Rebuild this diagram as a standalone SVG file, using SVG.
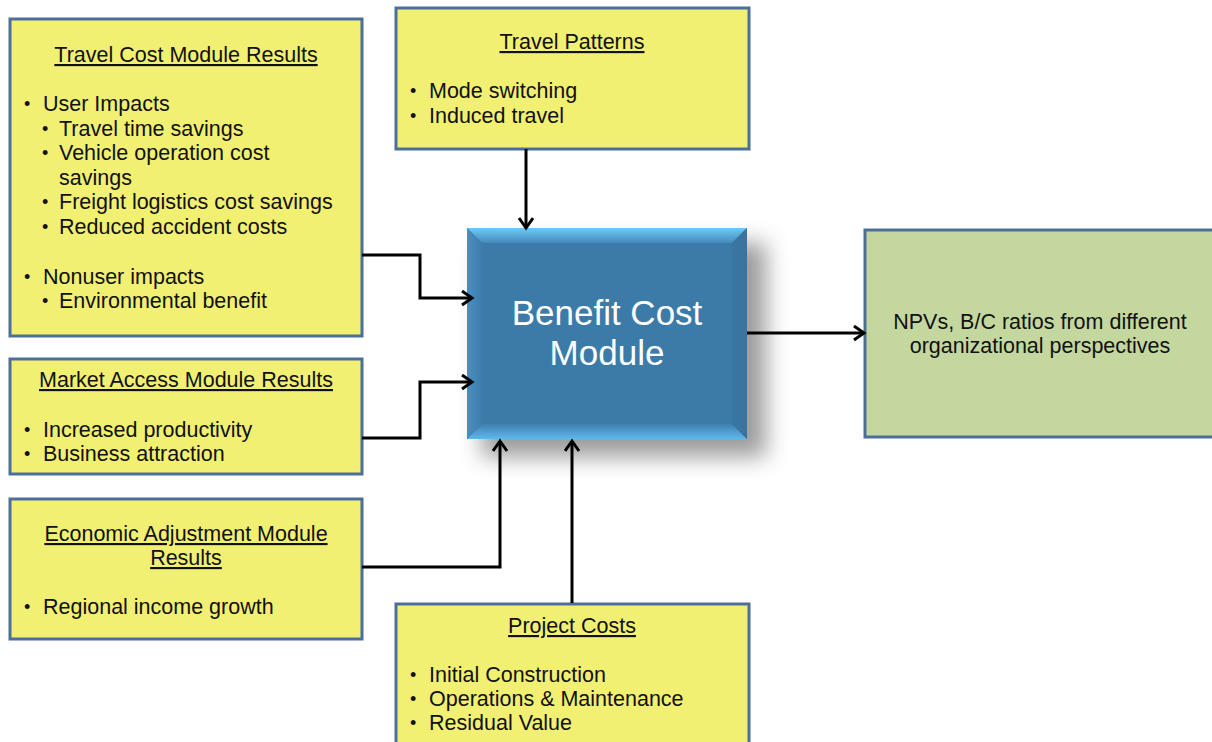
<svg xmlns="http://www.w3.org/2000/svg" width="1212" height="742" viewBox="0 0 1212 742">
  <style>
    .box { fill: #F2F072; stroke: #4C6E9C; stroke-width: 3; }
    .out { fill: #C4D79F; stroke: #4C6E9C; stroke-width: 3; }
    text { font-family: "Liberation Sans", Arial, sans-serif; font-size: 21.5px; fill: #111; }
    .ttl { text-anchor: middle; text-decoration: underline; }
    .mid { text-anchor: middle; }
    .dot { font-size: 18px; }
    .big { font-size: 35px; fill: #ffffff; text-anchor: middle; }
    .wire { fill: none; stroke: #000; stroke-width: 3; }
  </style>
  <defs>
    <marker id="arr" markerUnits="userSpaceOnUse" markerWidth="16" markerHeight="18" refX="12" refY="8" orient="auto">
      <path d="M2,1 L12,8 L2,15" fill="none" stroke="#000" stroke-width="3"/>
    </marker>
    <filter id="shade" x="-30%" y="-30%" width="170%" height="170%">
      <feGaussianBlur stdDeviation="11"/>
    </filter>
    <linearGradient id="bTop" x1="0" y1="0" x2="0" y2="1">
      <stop offset="0" stop-color="#6CCBF6"/>
      <stop offset="1" stop-color="#4589BC"/>
    </linearGradient>
    <linearGradient id="bBot" x1="0" y1="0" x2="0" y2="1">
      <stop offset="0" stop-color="#3F80B0"/>
      <stop offset="1" stop-color="#5DB9EC"/>
    </linearGradient>
    <linearGradient id="bLeft" x1="0" y1="0" x2="1" y2="0">
      <stop offset="0" stop-color="#4790C4"/>
      <stop offset="1" stop-color="#3E7DAB"/>
    </linearGradient>
    <linearGradient id="bRight" x1="0" y1="0" x2="1" y2="0">
      <stop offset="0" stop-color="#3A76A2"/>
      <stop offset="1" stop-color="#3A73A0"/>
    </linearGradient>
  </defs>

  <!-- input boxes -->
  <g id="travel-cost">
    <rect class="box" x="10" y="19" width="352" height="317"/>
    <text class="ttl" x="186" y="62">Travel Cost Module Results</text>
    <text class="dot" x="24" y="110">•</text><text x="43" y="111">User Impacts</text>
    <text class="dot" x="42" y="135">•</text><text x="59" y="136">Travel time savings</text>
    <text class="dot" x="42" y="159">•</text><text x="59" y="160">Vehicle operation cost</text>
    <text x="59" y="185">savings</text>
    <text class="dot" x="42" y="208">•</text><text x="59" y="209">Freight logistics cost savings</text>
    <text class="dot" x="42" y="233">•</text><text x="59" y="234">Reduced accident costs</text>
    <text class="dot" x="24" y="283">•</text><text x="43" y="284">Nonuser impacts</text>
    <text class="dot" x="42" y="307">•</text><text x="59" y="308">Environmental benefit</text>
  </g>

  <g id="travel-patterns">
    <rect class="box" x="396" y="8" width="353" height="141"/>
    <text class="ttl" x="572" y="49">Travel Patterns</text>
    <text class="dot" x="410" y="97">•</text><text x="429" y="98">Mode switching</text>
    <text class="dot" x="410" y="122">•</text><text x="429" y="123">Induced travel</text>
  </g>

  <g id="market-access">
    <rect class="box" x="10" y="359" width="352" height="115"/>
    <text class="ttl" x="186" y="387">Market Access Module Results</text>
    <text class="dot" x="24" y="436">•</text><text x="43" y="437">Increased productivity</text>
    <text class="dot" x="24" y="460">•</text><text x="43" y="461">Business attraction</text>
  </g>

  <g id="economic-adjustment">
    <rect class="box" x="10" y="499" width="352" height="140"/>
    <text class="ttl" x="186" y="541">Economic Adjustment Module</text>
    <text class="ttl" x="186" y="565">Results</text>
    <text class="dot" x="24" y="613">•</text><text x="43" y="614">Regional income growth</text>
  </g>

  <g id="project-costs">
    <rect class="box" x="396" y="604" width="353" height="150"/>
    <text class="ttl" x="572" y="633">Project Costs</text>
    <text class="dot" x="410" y="681">•</text><text x="429" y="682">Initial Construction</text>
    <text class="dot" x="410" y="705">•</text><text x="429" y="706">Operations &amp; Maintenance</text>
    <text class="dot" x="410" y="729">•</text><text x="429" y="730">Residual Value</text>
  </g>

  <!-- central bevelled module -->
  <g id="benefit-cost">
    <rect x="482" y="243" width="284" height="214" fill="#7a7a7a" opacity="0.75" filter="url(#shade)"/>
    <rect x="467" y="228" width="280" height="211" fill="#3C7BA8"/>
    <polygon points="467,228 747,228 732,243 482,243" fill="url(#bTop)"/>
    <polygon points="467,439 747,439 732,424 482,424" fill="url(#bBot)"/>
    <polygon points="467,228 482,243 482,424 467,439" fill="url(#bLeft)"/>
    <polygon points="747,228 732,243 732,424 747,439" fill="url(#bRight)"/>
    <text class="big" x="607" y="325">Benefit Cost</text>
    <text class="big" x="607" y="365">Module</text>
  </g>

  <g id="results">
    <rect class="out" x="865" y="230" width="360" height="207"/>
    <text class="mid" x="1040" y="329">NPVs, B/C ratios from different</text>
    <text class="mid" x="1040" y="353">organizational perspectives</text>
  </g>

  <!-- connectors -->
  <g id="connectors">
    <path class="wire" d="M362,255 H420 V298 H472" marker-end="url(#arr)"/>
    <path class="wire" d="M362,438 H420 V382 H472" marker-end="url(#arr)"/>
    <path class="wire" d="M362,567 H500 V441" marker-end="url(#arr)"/>
    <path class="wire" d="M572,603 V441" marker-end="url(#arr)"/>
    <path class="wire" d="M526,149 V228" marker-end="url(#arr)"/>
    <path class="wire" d="M747,333 H864" marker-end="url(#arr)"/>
  </g>
</svg>
